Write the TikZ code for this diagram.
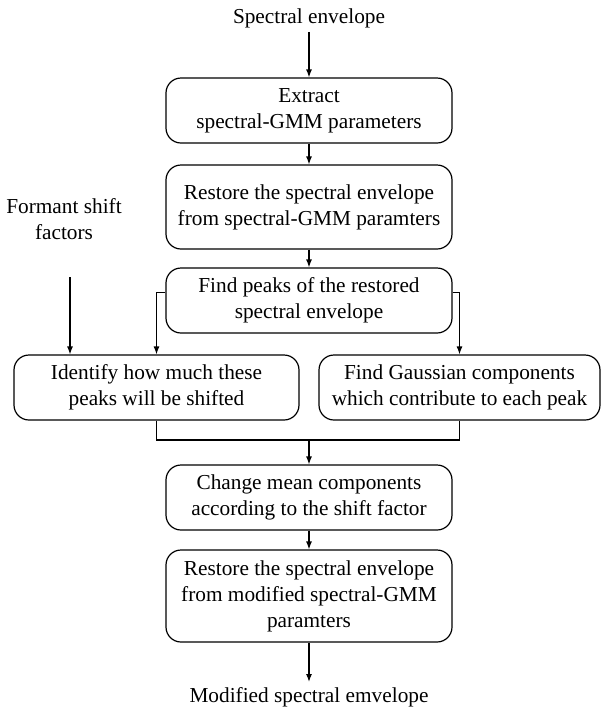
\documentclass[tikz,border=0pt]{standalone}
\usepackage{fontspec}
\setmainfont{Liberation Serif}
\usetikzlibrary{arrows.meta}
\begin{document}
\begin{tikzpicture}[x=1pt,y=-1pt,
  every node/.style={font=\fontsize{21.3}{26}\selectfont, align=center, inner sep=0pt},
  procbox/.style={draw, line width=1.2pt, rounded corners=15pt},
  arr/.style={line width=1.2pt, -{Latex[length=8pt,width=6pt]}},
  conn/.style={line width=1.2pt}]
\useasboundingbox (0,0) rectangle (602,713);
% input / output texts
\node (in) at (309,18) {Spectral envelope};
\node (out) at (309,697) {Modified spectral emvelope};
\node (fs) at (64,219) {Formant shift\\factors};
\coordinate (fsA) at (70,277);
% process boxes
\node[procbox, minimum width=286pt, minimum height=65pt] (b1) at (309,110.5) {Extract\\spectral-GMM parameters};
\node[procbox, minimum width=286pt, minimum height=84pt] (b2) at (309,207) {Restore the spectral envelope\\from spectral-GMM paramters};
\node[procbox, minimum width=286pt, minimum height=65pt] (b3) at (309,300.5) {Find peaks of the restored\\spectral envelope};
\node[procbox, minimum width=285pt, minimum height=65pt] (lb) at (156.5,387.5) {Identify how much these\\peaks will be shifted};
\node[procbox, minimum width=281pt, minimum height=65pt] (rb) at (459.5,387.5) {Find Gaussian components\\which contribute to each peak};
\coordinate (join) at (309,440);
\node[procbox, minimum width=286pt, minimum height=65pt] (chg) at (309,497.5) {Change mean components\\according to the shift factor};
\node[procbox, minimum width=286pt, minimum height=92pt] (b4) at (309,596) {Restore the spectral envelope\\from modified spectral-GMM\\paramters};
% connectors
\draw[arr] ([yshift=-4pt]in.south) -- (b1.north);
\draw[arr] (b1) -- (b2);
\draw[arr] (b2) -- (b3);
\draw[arr] ([yshift=8pt]b3.west) -| (lb.north);
\draw[arr] ([yshift=8pt]b3.east) -| (rb.north);
\draw[arr] (fsA) -- (fsA |- lb.north);
\draw[conn] (lb.south) |- (join) -| (rb.south);
\draw[arr] (join) -- (chg.north);
\draw[arr] (chg) -- (b4);
\draw[arr] (b4.south) -- ([yshift=5pt]out.north);
\end{tikzpicture}
\end{document}
